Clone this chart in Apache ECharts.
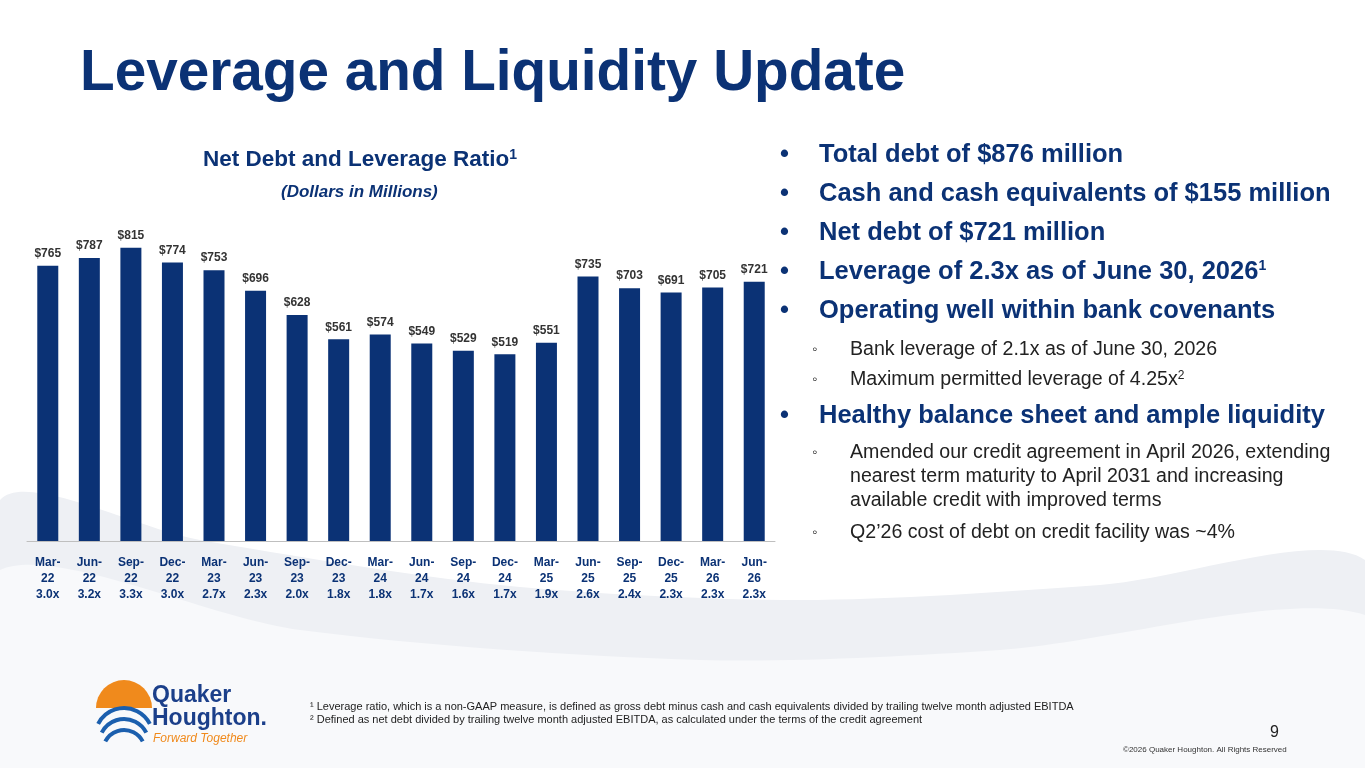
<!DOCTYPE html>
<html><head><meta charset="utf-8">
<script src="https://cdn.jsdelivr.net/npm/echarts@6/dist/echarts.min.js"></script>
<style>html,body{margin:0;padding:0;background:#fff}#c{width:1365px;height:768px}</style>
</head><body><div id="c"></div>
<script>
const categories=["Mar-\n22","Jun-\n22","Sep-\n22","Dec-\n22","Mar-\n23","Jun-\n23","Sep-\n23","Dec-\n23","Mar-\n24","Jun-\n24","Sep-\n24","Dec-\n24","Mar-\n25","Jun-\n25","Sep-\n25","Dec-\n25","Mar-\n26","Jun-\n26"];
const leverage=["3.0x","3.2x","3.3x","3.0x","2.7x","2.3x","2.0x","1.8x","1.8x","1.7x","1.6x","1.7x","1.9x","2.6x","2.4x","2.3x","2.3x","2.3x"];
const netDebt=[765,787,815,774,753,696,628,561,574,549,529,519,551,735,703,691,705,721];
const navy='#0b3275';
const F='Arial, "Liberation Sans", sans-serif';
const bullets=[
 {t:'Total debt of $876 million',lvl:1,y:155},
 {t:'Cash and cash equivalents of $155 million',lvl:1,y:194},
 {t:'Net debt of $721 million',lvl:1,y:233},
 {t:'Leverage of 2.3x as of June 30, 2026{s|1}',lvl:1,y:272},
 {t:'Operating well within bank covenants',lvl:1,y:311},
 {t:'Bank leverage of 2.1x as of June 30, 2026',lvl:2,y:350},
 {t:'Maximum permitted leverage of 4.25x{s2|2}',lvl:2,y:380},
 {t:'Healthy balance sheet and ample liquidity',lvl:1,y:416},
 {t:'Amended our credit agreement in April 2026, extending\nnearest term maturity to April 2031 and increasing\navailable credit with improved terms',lvl:2,y:477,dot:453},
 {t:'Q2’26 cost of debt on credit facility was ~4%',lvl:2,y:533}
];
const g=[
 {type:'polygon',shape:{points:[[0,500],[200,540],[500,585],[800,600],[1100,585],[1365,560],[1365,768],[0,768]],smooth:0.3},style:{fill:'#eef0f4'},z:-10},
 {type:'polygon',shape:{points:[[0,570],[300,630],[700,660],[1000,650],[1365,615],[1365,768],[0,768]],smooth:0.3},style:{fill:'#f8f9fb'},z:-9},
 {type:'text',x:80,y:74,style:{text:'Leverage and Liquidity Update',font:'bold 56.7px '+F,fill:navy,verticalAlign:'middle'}},
 {type:'text',x:203,y:160,style:{text:'Net Debt and Leverage Ratio{s|1}',font:'bold 22.5px '+F,fill:navy,verticalAlign:'middle',rich:{s:{font:'bold 14px '+F,fill:navy,verticalAlign:'top',padding:[0,0,10,0]}}}},
 {type:'text',x:281,y:192,style:{text:'(Dollars in Millions)',font:'italic bold 17px '+F,fill:navy,verticalAlign:'middle'}},
 {type:'text',left:310,top:700,style:{text:'¹ Leverage ratio, which is a non-GAAP measure, is defined as gross debt minus cash and cash equivalents divided by trailing twelve month adjusted EBITDA\n² Defined as net debt divided by trailing twelve month adjusted EBITDA, as calculated under the terms of the credit agreement',font:'11px '+F,fill:'#222',lineHeight:13}},
 {type:'text',left:1270,top:725,style:{text:'9',font:'16px '+F,fill:'#222'}},
 {type:'text',left:1123,top:746,style:{text:'©2026 Quaker Houghton. All Rights Reserved',font:'8px '+F,fill:'#333'}},
 {type:'sector',shape:{cx:124,cy:708,r:28,r0:0,startAngle:Math.PI,endAngle:Math.PI*2},style:{fill:'#f08a1c'}},
 {type:'arc',shape:{cx:124,cy:737,r:29,startAngle:Math.PI*1.15,endAngle:Math.PI*1.85},style:{stroke:'#1b5fae',lineWidth:4,fill:null}},
 {type:'arc',shape:{cx:124,cy:744,r:25,startAngle:Math.PI*1.15,endAngle:Math.PI*1.85},style:{stroke:'#1b5fae',lineWidth:4,fill:null}},
 {type:'arc',shape:{cx:124,cy:751,r:21,startAngle:Math.PI*1.15,endAngle:Math.PI*1.85},style:{stroke:'#1b5fae',lineWidth:4,fill:null}},
 {type:'text',left:152,top:684,style:{text:'Quaker\nHoughton.',font:'bold 23px '+F,fill:'#1b3f8a',lineHeight:23}},
 {type:'text',left:153,top:733,style:{text:'Forward Together',font:'italic 12px '+F,fill:'#f08a1c'}}
];
bullets.forEach(b=>{
 if(b.lvl===1){
  g.push({type:'text',x:780,y:b.y,style:{text:'•',font:'bold 25.5px '+F,fill:navy,verticalAlign:'middle'}});
  g.push({type:'text',x:819,y:b.y,style:{text:b.t,font:'bold 25.5px '+F,fill:navy,verticalAlign:'middle',rich:{s:{font:'bold 14px '+F,fill:navy,verticalAlign:'top',padding:[0,0,12,0]}}}});
 }else{
  g.push({type:'text',x:812,y:b.dot||b.y,style:{text:'◦',font:'15px '+F,fill:'#222',verticalAlign:'middle'}});
  g.push({type:'text',x:850,y:b.y,style:{text:b.t,font:'19.6px '+F,fill:'#222',lineHeight:24,verticalAlign:'middle',rich:{s2:{font:'12px '+F,fill:'#222',padding:[0,0,9,0]}}}});
 }
});
const chart=echarts.init(document.getElementById('c'));
chart.setOption({
 animation:false,
 grid:{left:27,right:590,top:200,bottom:227},
 xAxis:{type:'category',data:categories.map((c,i)=>c+'\n'+leverage[i]),
  axisLine:{lineStyle:{color:'#bfbfbf'}},axisTick:{show:false},
  axisLabel:{interval:0,color:navy,fontWeight:'bold',fontSize:12,fontFamily:F,lineHeight:16,margin:14}},
 yAxis:{type:'value',min:0,max:948,show:false,splitLine:{show:false}},
 series:[{type:'bar',data:netDebt,barWidth:21,itemStyle:{color:navy},
  label:{show:true,position:'top',formatter:p=>'$'+p.value,color:'#333',fontWeight:'bold',fontSize:12,fontFamily:F,distance:6}}],
 graphic:g
});
</script></body></html>
